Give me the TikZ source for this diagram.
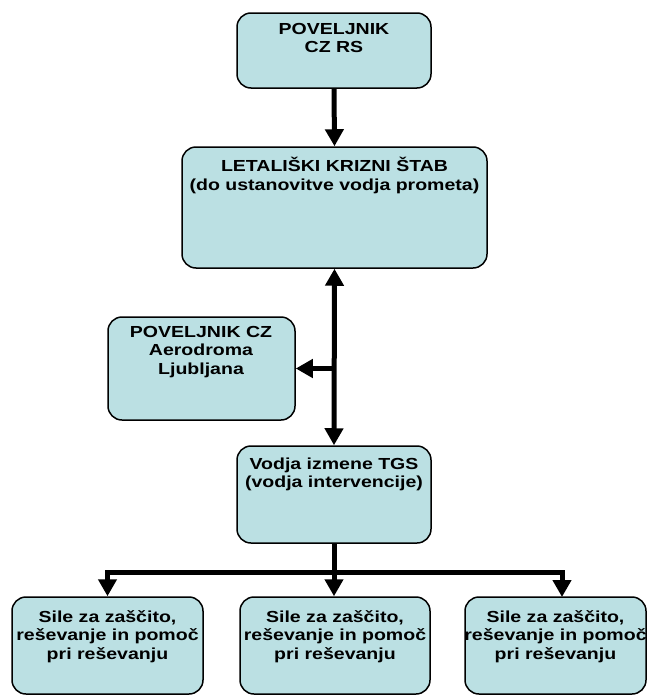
\documentclass[tikz,border=0pt]{standalone}
\usepackage{fontspec}
\setmainfont{Liberation Sans}[FakeStretch=1.22]
\usetikzlibrary{arrows.meta}
\definecolor{boxfill}{RGB}{187,224,227}
\tikzset{
  orgbox/.style={draw=black, line width=1.5pt, fill=boxfill, rounded corners=14pt, inner sep=0pt},
  boxtext/.style={anchor=north, align=center, inner sep=0pt, font=\fontsize{16}{18.5}\selectfont\bfseries},
  conn/.style={line width=5pt, draw=black},
  arr/.style={conn, -{Triangle[width=18pt,length=17pt]}},
  dblarr/.style={conn, {Triangle[width=18pt,length=17pt]}-{Triangle[width=18pt,length=17pt]}}
}
\newcommand{\firstline}{\rule{0pt}{14pt}}
\begin{document}
\begin{tikzpicture}[x=1pt,y=-1pt]
\useasboundingbox (0,0) rectangle (649,696);
% boxes
\node[orgbox, minimum width=194pt, minimum height=75pt] (b1) at (334,50.5) {};
\node[orgbox, minimum width=305pt, minimum height=121pt] (b2) at (334.5,207.5) {};
\node[orgbox, minimum width=187pt, minimum height=103pt] (b3) at (201.5,368.5) {};
\node[orgbox, minimum width=194pt, minimum height=97pt] (b4) at (334,494.5) {};
\node[orgbox, minimum width=191pt, minimum height=97pt] (bA) at (107.5,645.5) {};
\node[orgbox, minimum width=190pt, minimum height=97pt] (bB) at (335,645.5) {};
\node[orgbox, minimum width=181pt, minimum height=97pt] (bC) at (555.5,645.5) {};
% texts
\node[boxtext] (t1) at (334,20) {\firstline POVELJNIK\\CZ RS};
\node[boxtext] (t2) at (334.5,157) {\firstline LETALIŠKI KRIZNI ŠTAB\\(do ustanovitve vodja prometa)};
\node[boxtext] (t3) at (201,323) {\firstline POVELJNIK CZ\\Aerodroma\\Ljubljana};
\node[boxtext] (t4) at (334,455) {\firstline Vodja izmene TGS\\(vodja intervencije)};
\node[boxtext] (tA) at (107.5,608) {\firstline Sile za zaščito,\\reševanje in pomoč\\pri reševanju};
\node[boxtext] (tB) at (335,608) {\firstline Sile za zaščito,\\reševanje in pomoč\\pri reševanju};
\node[boxtext] (tC) at (555.5,608) {\firstline Sile za zaščito,\\reševanje in pomoč\\pri reševanju};
% connectors
\coordinate (side) at (334,368.5);
\coordinate (fork) at (334,572);
\draw[arr] (b1.south) -- (b2.north);
\draw[dblarr] (b2.south) -- (b4.north);
\draw[arr] (side) -- (b3.east);
\draw[conn] (b4.south) -- (fork);
\draw[arr] (fork) -| (bA.north);
\draw[arr] (fork) -- (fork |- bB.north);
\draw[arr] (fork) -| (562,597);
\end{tikzpicture}
\end{document}
